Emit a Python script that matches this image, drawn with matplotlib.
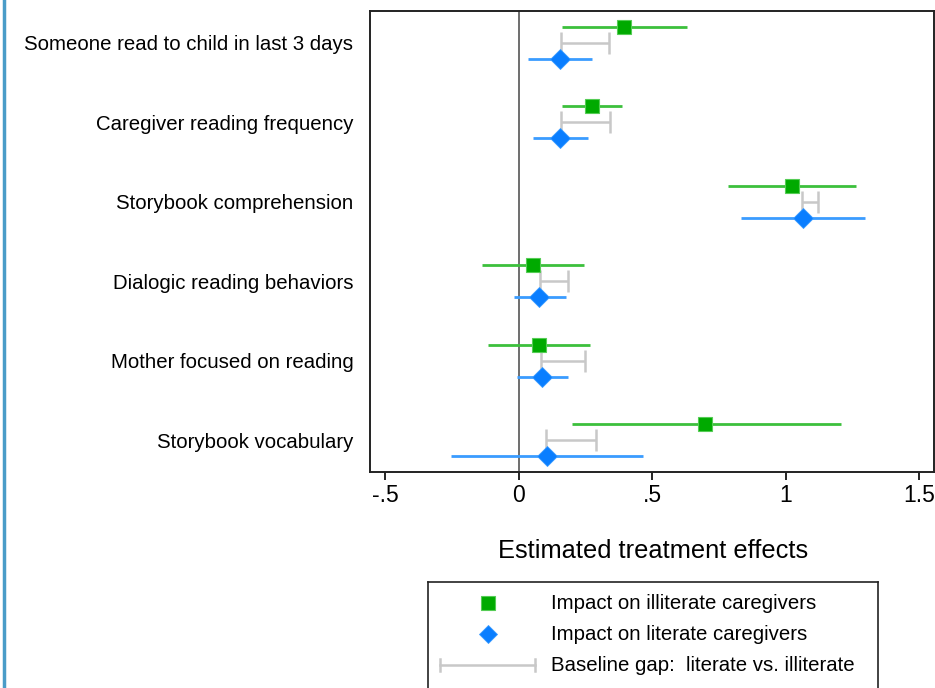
import matplotlib
matplotlib.use("Agg")
import matplotlib.pyplot as plt
from matplotlib.lines import Line2D
import numpy as np

plt.rcParams['font.family'] = ['Liberation Sans', 'DejaVu Sans']

categories = ["Someone read to child in last 3 days",
              "Caregiver reading frequency",
              "Storybook comprehension",
              "Dialogic reading behaviors",
              "Mother focused on reading",
              "Storybook vocabulary"]

illit_est = [0.393, 0.273, 1.022, 0.051, 0.075, 0.698]
illit_lo = [0.160, 0.160, 0.785, -0.138, -0.115, 0.197]
illit_hi = [0.631, 0.387, 1.261, 0.242, 0.266, 1.206]

lit_est = [0.153, 0.155, 1.064, 0.076, 0.088, 0.105]
lit_lo = [0.035, 0.053, 0.833, -0.019, -0.006, -0.254]
lit_hi = [0.273, 0.260, 1.297, 0.176, 0.182, 0.465]

gap_lo = [0.157, 0.157, 1.062, 0.079, 0.084, 0.102]
gap_hi = [0.337, 0.343, 1.121, 0.182, 0.246, 0.290]

xticks = [-0.5, 0, 0.5, 1, 1.5]
xticklabels = ["-.5", "0", ".5", "1", "1.5"]

W, H = 935, 688
fig = plt.figure(figsize=(W/100, H/100), dpi=100)
ax = fig.add_axes([370/W, 1-472/H, (934-370)/W, (472-11)/H])

ypos = np.arange(1, len(categories)+1)
off = 0.2

green = "#00AA00"
green_ci = "#3CC03C"
blue = "#0A7EFF"
blue_ci = "#3A9CFF"
gray = "#C8C8C8"

ax.axvline(0, color="#555555", lw=1.2, zorder=1)

# baseline gap
for y, lo, hi in zip(ypos, gap_lo, gap_hi):
    ax.errorbar([(lo+hi)/2], [y], xerr=[[(hi-lo)/2], [(hi-lo)/2]], fmt='none',
                ecolor=gray, elinewidth=1.8, capsize=8, capthick=1.8, zorder=2)

# illiterate
ax.hlines(ypos - off, illit_lo, illit_hi, color=green_ci, lw=2, zorder=3)
ax.plot(illit_est, ypos - off, 's', color=green, markersize=10.5,
        markeredgecolor="#55CC55", markeredgewidth=0.8, zorder=4)

# literate
ax.hlines(ypos + off, lit_lo, lit_hi, color=blue_ci, lw=2, zorder=3)
ax.plot(lit_est, ypos + off, 'D', color=blue, markersize=10,
        markeredgecolor="#3A9CFF", markeredgewidth=0.6, zorder=4)

ax.set_xlim(-0.558, 1.555)
ax.set_ylim(6.4, 0.6)
ax.set_xticks(xticks)
ax.set_xticklabels(xticklabels, fontsize=16.5)
ax.set_yticks(ypos)
ax.set_yticklabels(categories, fontsize=14.7)
ax.tick_params(axis='y', length=0, pad=12)
ax.tick_params(axis='x', length=6, width=1.2, pad=3, direction='out')
for s in ax.spines.values():
    s.set_linewidth(1.4)
    s.set_color("#222222")

fig.text(653/W, 1-551/H, "Estimated treatment effects", fontsize=18.3,
         ha='center', va='center')

# legend box
lax = fig.add_axes([428/W, 0, (878-428)/W, (688-582)/H])
lax.set_xlim(428, 878)
lax.set_ylim(688, 582)
lax.set_xticks([])
lax.set_yticks([])
for s in lax.spines.values():
    s.set_linewidth(1.2)
    s.set_color("#222222")
lax.spines['bottom'].set_visible(False)
lax.plot([488], [603], 's', color=green, markersize=9.5, markeredgecolor="#55CC55", markeredgewidth=0.8)
lax.plot([488], [634], 'D', color=blue, markersize=9, markeredgecolor="#3A9CFF", markeredgewidth=0.6)
lax.plot([440, 535], [665, 665], color=gray, lw=1.8)
lax.plot([440, 440], [659, 671], color=gray, lw=1.8)
lax.plot([535, 535], [659, 671], color=gray, lw=1.8)
lax.text(551, 603, "Impact on illiterate caregivers", fontsize=14.7, va='center', ha='left')
lax.text(551, 634, "Impact on literate caregivers", fontsize=14.7, va='center', ha='left')
lax.text(551, 665, "Baseline gap:  literate vs. illiterate", fontsize=14.7, va='center', ha='left')

# left border line of the page
fig.add_artist(Line2D([3.5/W, 3.5/W], [0, 1], color="#4A9CC8", lw=2.5))

fig.savefig("out.png", dpi=100)
